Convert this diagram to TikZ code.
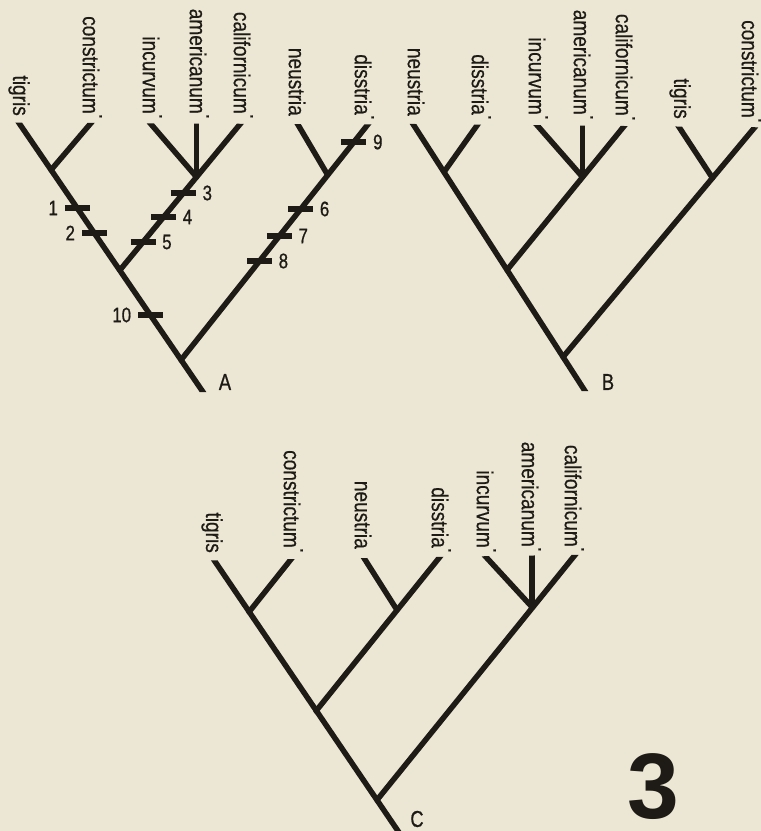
\documentclass[tikz,border=0pt]{standalone}
\usepackage{fontspec}
\setmainfont{Liberation Sans}
\newfontfamily\leaffont{Liberation Sans}[FakeStretch=0.83,FakeBold=0.5]
\newfontfamily\numfont{Liberation Sans}[FakeStretch=0.8,FakeBold=0.8]
\usetikzlibrary{calc}
\definecolor{paper}{RGB}{236,231,212}
\definecolor{ink}{RGB}{30,27,22}
\newcommand\tipdot{\rlap{\smash{\raisebox{0.72em}{.}}}}
\begin{document}
\begin{tikzpicture}[x=1pt,y=-1pt,
  branch/.style={draw=ink, line width=5.5pt, line cap=round},
  tipend/.style={shorten >=-8pt},
  leaf/.style={rotate=-90, anchor=east, inner sep=0pt, text=ink, font=\leaffont\fontsize{23}{23}\selectfont},
  bar/.style={draw=ink, line width=5.5pt},
  numl/.style={inner sep=0pt, text=ink, font=\numfont\fontsize{21}{21}\selectfont},
  treel/.style={inner sep=0pt, text=ink, font=\numfont\fontsize{23}{23}\selectfont},
]
\fill[paper] (0,0) rectangle (761,831);
\useasboundingbox (0,0) rectangle (761,831);

% ---------------- Tree A ----------------
\coordinate (A-tig) at (19,123);
\coordinate (A-root) at (203,392);
\coordinate (A-j1) at (51,170);
\coordinate (A-con) at (91,123);
\coordinate (A-j2) at (120,270);
\coordinate (A-cal) at (241,123);
\coordinate (A-j3) at (196.5,177);
\coordinate (A-inc) at (150,123);
\coordinate (A-ame) at (196.5,123);
\coordinate (A-j0) at (181,360);
\coordinate (A-dis) at (369,123);
\coordinate (A-j4) at (327.7,175);
\coordinate (A-neu) at (297,123);
\begin{scope}
\clip (0,122.5) -- (385,124.5) -- (385,392) -- (0,392) -- cycle;
\draw[branch, shorten <=-8pt, shorten >=-8pt] (A-root) -- (A-tig);
\draw[branch, tipend] (A-j1) -- (A-con);
\draw[branch, tipend] (A-j2) -- (A-cal);
\draw[branch, tipend] (A-j3) -- (A-inc);
\draw[branch, tipend] (A-j3) -- (A-ame);
\draw[branch, tipend] (A-j0) -- (A-dis);
\draw[branch, tipend] (A-j4) -- (A-neu);
\end{scope}
\node[leaf] (lA1) at (19,116) {tigris};
\node[leaf] (lA2) at (91,114) {constrictum\tipdot};
\node[leaf] (lA3) at (151,114) {incurvum\tipdot};
\node[leaf] (lA4) at (198,114) {americanum\tipdot};
\node[leaf] (lA5) at (242,114) {californicum\tipdot};
\node[leaf] (lA6) at (297,116) {neustria};
\node[leaf] (lA7) at (363,115) {disstria\tipdot};
% character bars
\draw[bar] (77.1,208) ++(12.5,0) -- ++(-25,0) node[numl, anchor=east, xshift=-4pt] (m1) {1};
\draw[bar] (94.2,233) ++(12.5,0) -- ++(-25,0) node[numl, anchor=east, xshift=-4pt] (m2) {2};
\draw[bar] (183.4,193) ++(-12.5,0) -- ++(25,0) node[numl, anchor=west, xshift=4pt] (m3) {3};
\draw[bar] (163.6,217) ++(-12.5,0) -- ++(25,0) node[numl, anchor=west, xshift=4pt] (m4) {4};
\draw[bar] (143,242) ++(-12.5,0) -- ++(25,0) node[numl, anchor=west, xshift=4pt] (m5) {5};
\draw[bar] (300.7,209) ++(-12.5,0) -- ++(25,0) node[numl, anchor=west, xshift=4pt] (m6) {6};
\draw[bar] (279.3,236) ++(-12.5,0) -- ++(25,0) node[numl, anchor=west, xshift=4pt] (m7) {7};
\draw[bar] (259.5,261) ++(-12.5,0) -- ++(25,0) node[numl, anchor=west, xshift=4pt] (m8) {8};
\draw[bar] (353.9,142) ++(-12.5,0) -- ++(25,0) node[numl, anchor=west, xshift=4pt] (m9) {9};
\draw[bar] (150.3,315) ++(12.5,0) -- ++(-25,0) node[numl, anchor=east, xshift=-4pt] (m10) {10};
\node[treel] (tA) at (225,382) {A};

% ---------------- Tree B ----------------
\coordinate (B-neu) at (413,124);
\coordinate (B-root) at (585,391);
\coordinate (B-j1) at (444,172);
\coordinate (B-dis) at (478,124);
\coordinate (B-j2) at (507,270);
\coordinate (B-cal) at (625,125);
\coordinate (B-j3) at (582.5,177);
\coordinate (B-inc) at (536,124);
\coordinate (B-ame) at (582.5,124);
\coordinate (B-j0) at (563,357);
\coordinate (B-con) at (755,127);
\coordinate (B-j4) at (712.5,178);
\coordinate (B-tig) at (679,127);
\begin{scope}
\clip (395,123.8) -- (761,127.3) -- (761,391) -- (395,391) -- cycle;
\draw[branch, shorten <=-8pt, shorten >=-8pt] (B-root) -- (B-neu);
\draw[branch, tipend] (B-j1) -- (B-dis);
\draw[branch, tipend] (B-j2) -- (B-cal);
\draw[branch, tipend] (B-j3) -- (B-inc);
\draw[branch, tipend] (B-j3) -- (B-ame);
\draw[branch, tipend] (B-j0) -- (B-con);
\draw[branch, tipend] (B-j4) -- (B-tig);
\end{scope}
\node[leaf] (lB1) at (416,116) {neustria};
\node[leaf] (lB2) at (480,115) {disstria\tipdot};
\node[leaf] (lB3) at (537,115) {incurvum\tipdot};
\node[leaf] (lB4) at (582,115) {americanum\tipdot};
\node[leaf] (lB5) at (624,116) {californicum\tipdot};
\node[leaf] (lB6) at (680,119) {tigris};
\node[leaf] (lB7) at (750,118) {constrictum\tipdot};
\node[treel] (tB) at (608,382) {B};

% ---------------- Tree C ----------------
\coordinate (C-tig) at (214,560);
\coordinate (C-root) at (398,831);
\coordinate (C-j1) at (249,612);
\coordinate (C-con) at (292,558);
\coordinate (C-j2) at (316,711);
\coordinate (C-dis) at (439,558);
\coordinate (C-j3) at (397,610);
\coordinate (C-neu) at (364,558);
\coordinate (C-j0) at (377,800);
\coordinate (C-cal) at (575,555);
\coordinate (C-j4) at (532,607);
\coordinate (C-inc) at (486,557);
\coordinate (C-ame) at (532,556);
\begin{scope}
\clip (200,560.5) -- (600,554.5) -- (600,835) -- (200,835) -- cycle;
\draw[branch, shorten <=-8pt, shorten >=-8pt] (C-root) -- (C-tig);
\draw[branch, tipend] (C-j1) -- (C-con);
\draw[branch, tipend] (C-j2) -- (C-dis);
\draw[branch, tipend] (C-j3) -- (C-neu);
\draw[branch, tipend] (C-j0) -- (C-cal);
\draw[branch, tipend] (C-j4) -- (C-inc);
\draw[branch, tipend] (C-j4) -- (C-ame);
\end{scope}
\node[leaf] (lC1) at (212,553) {tigris};
\node[leaf] (lC2) at (292,548) {constrictum\tipdot};
\node[leaf] (lC3) at (363,549) {neustria};
\node[leaf] (lC4) at (440,548) {disstria\tipdot};
\node[leaf] (lC5) at (485,548) {incurvum\tipdot};
\node[leaf] (lC6) at (530,547) {americanum\tipdot};
\node[leaf] (lC7) at (573,547) {californicum\tipdot};
\node[treel] (tC) at (417,819) {C};

\node[inner sep=0pt, text=ink, font=\bfseries\fontsize{93}{93}\selectfont] (fig) at (653,787) {3};
\end{tikzpicture}
\end{document}
